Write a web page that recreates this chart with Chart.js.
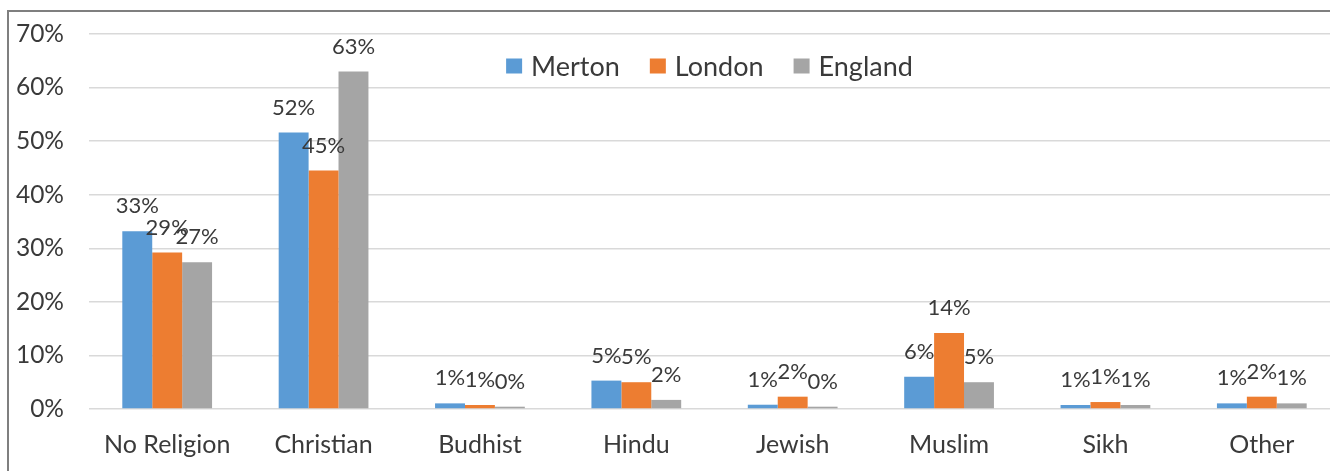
<!DOCTYPE html>
<html><head><meta charset="utf-8">
<script src="https://cdn.jsdelivr.net/npm/chart.js@4.4.0/dist/chart.umd.min.js"></script>
<style>
html,body{margin:0;padding:0;background:#fff;overflow:hidden;width:1330px;height:471px;}
#wrap{position:absolute;left:0;top:0;width:1345px;height:471px;}
#frame{position:absolute;left:7px;top:10px;width:1330px;height:470px;border-left:2px solid #7f7f7f;border-top:2px solid #7f7f7f;pointer-events:none}
</style></head><body>
<div id="wrap"><canvas id="c" width="1345" height="471"></canvas></div>
<div id="frame"></div>
<script>
const categories = ["No Religion", "Christian", "Budhist", "Hindu", "Jewish", "Muslim", "Sikh", "Other"];
const seriesNames = ["Merton", "London", "England"];
const merton  = [33.2, 51.6, 1.05, 5.3, 0.8, 6.0, 0.75, 1.05];
const london  = [29.2, 44.5, 0.75, 5.0, 2.3, 14.2, 1.3, 2.3];
const england = [27.4, 63.0, 0.43, 1.7, 0.43, 5.0, 0.75, 1.05];
const seriesColors = ["#5b9bd5", "#ed7d31", "#a5a5a5"];
const yTickValues = [0, 10, 20, 30, 40, 50, 60, 70];

const TEXT = '#3a3a3a';
const FONT = 'Lato';

const valueLabels = {
  id: 'valueLabels',
  afterDatasetsDraw(chart) {
    const ctx = chart.ctx;
    ctx.save();
    ctx.font = '22px ' + FONT;
    ctx.fillStyle = TEXT;
    ctx.textAlign = 'center';
    ctx.textBaseline = 'alphabetic';
    chart.data.datasets.forEach((ds, i) => {
      chart.getDatasetMeta(i).data.forEach((bar, j) => {
        ctx.fillText(Math.round(ds.data[j]) + '%', bar.x, bar.y - 18);
      });
    });
    ctx.restore();
  }
};

const topLegend = {
  id: 'topLegend',
  afterDraw(chart) {
    const ctx = chart.ctx;
    const ca = chart.chartArea;
    ctx.save();
    ctx.font = '27px ' + FONT;
    ctx.textBaseline = 'middle';
    ctx.textAlign = 'left';
    const box = 16, gapText = 9, gapItem = 30;
    const items = chart.data.datasets.map(ds => ({ text: ds.label, color: ds.backgroundColor, w: box + gapText + ctx.measureText(ds.label).width }));
    const total = items.reduce((s, it) => s + it.w, 0) + gapItem * (items.length - 1);
    let x = (ca.left + ca.right) / 2 - 5 - total / 2;
    const cy = ca.top + 32;
    items.forEach(it => {
      ctx.fillStyle = it.color;
      ctx.fillRect(x, cy - 7.5, box, 15);
      ctx.fillStyle = TEXT;
      ctx.fillText(it.text, x + box + gapText, cy + 1);
      x += it.w + gapItem;
    });
    ctx.restore();
  }
};

function build() {
  const seriesData = [merton, london, england];
  new Chart(document.getElementById('c'), {
    type: 'bar',
    data: {
      labels: categories,
      datasets: seriesNames.map((n, i) => ({
        label: n,
        data: seriesData[i],
        backgroundColor: seriesColors[i],
        borderWidth: 0,
        categoryPercentage: 0.574,
        barPercentage: 1.0
      }))
    },
    options: {
      responsive: false,
      animation: false,
      devicePixelRatio: 1,
      layout: { padding: { left: 0, top: 34, right: 5, bottom: 0 } },
      plugins: {
        tooltip: { enabled: false },
        legend: { display: false }
      },
      scales: {
        x: {
          grid: { display: false, drawTicks: false },
          border: { display: false },
          ticks: { color: TEXT, font: { family: FONT, size: 25 }, padding: 21, maxRotation: 0 },
          afterFit: (a) => { a.height = 62; }
        },
        y: {
          min: 0, max: 70,
          afterBuildTicks: (a) => { a.ticks = yTickValues.map(v => ({ value: v })); },
          grid: { color: '#d9d9d9', lineWidth: 1.5, drawTicks: false },
          border: { display: false },
          ticks: { color: TEXT, font: { family: FONT, size: 24.5 }, padding: 25, callback: v => v + '%' },
          afterFit: (a) => { a.width = 89; a.paddingTop = 0; a.paddingBottom = 0; }
        }
      }
    },
    plugins: [valueLabels, topLegend]
  });
}
Promise.all([document.fonts.load('24px Lato'), document.fonts.load('22px Lato')]).then(build, build);
</script>
</body></html>
